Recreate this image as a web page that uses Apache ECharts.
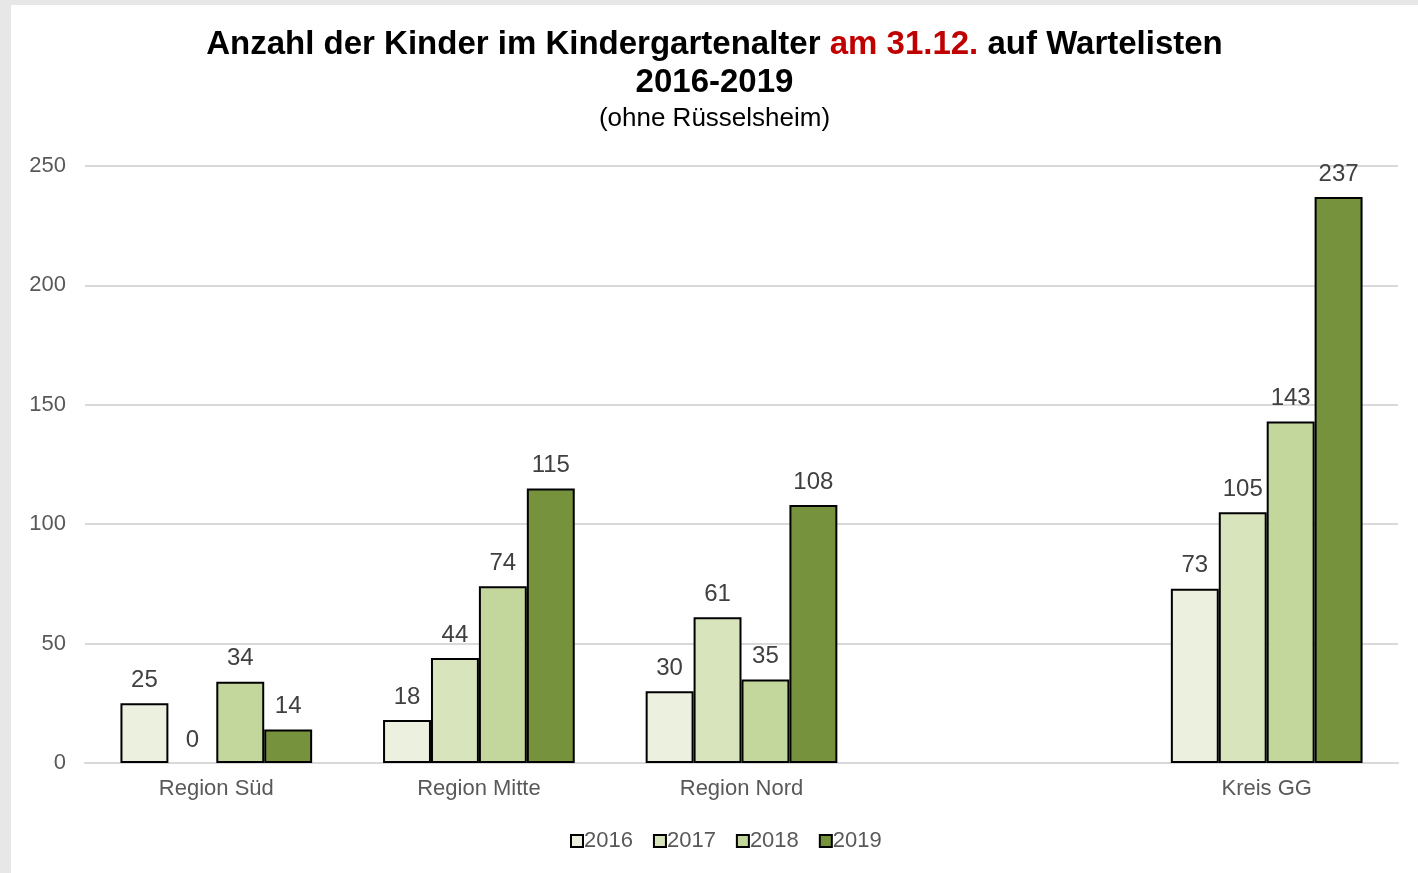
<!DOCTYPE html>
<html>
<head>
<meta charset="utf-8">
<script src="https://cdn.jsdelivr.net/npm/echarts@6/dist/echarts.min.js"></script>
<style>
    html, body { margin: 0; padding: 0; background: #e7e7e7; }
    #chart { position: absolute; left: 11px; top: 5px; width: 1407px; height: 868px; background: #fff; }
</style>
</head>
<body>
<div id="chart"></div>
<script>
    // Kategorien (leere Kategorie = Abstand vor Kreis GG)
    var regions = ['Region Süd', 'Region Mitte', 'Region Nord', '', 'Kreis GG']
    var years = ['2016', '2017', '2018', '2019']
    var v2016 = [25, 18, 30, '-', 73]
    var v2017 = [0, 44, 61, '-', 105]
    var v2018 = [34, 74, 35, '-', 143]
    var v2019 = [14, 115, 108, '-', 237]
    var yTicks = [0, 50, 100, 150, 200, 250]

    var colors = ['#ebf0df', '#d8e4bc', '#c3d69b', '#76923c']
    var values = [v2016, v2017, v2018, v2019]

    var myChart = echarts.init(document.getElementById('chart'))

    var series = years.map(function (y, i) {
        return {
            name: y,
            type: 'bar',
            // zero bars get no outline (Excel draws nothing there)
            data: values[i].map(function (v) {
                return v === 0 ? { value: v, itemStyle: { borderWidth: 0 } } : v
            }),
            barGap: '0%',
            barCategoryGap: '27%',
            itemStyle: {
                color: colors[i],
                borderColor: '#000',
                borderWidth: 2
            },
            label: {
                show: true,
                position: 'top',
                distance: 11,
                color: '#404040',
                fontSize: 24,
                fontFamily: 'Liberation Sans'
            }
        }
    })

    var option = {
        animation: false,
        textStyle: { fontFamily: 'Liberation Sans' },
        title: {
            text: '{a|Anzahl der Kinder im Kindergartenalter }{r|am 31.12.}{a| auf Wartelisten}\n{a|2016-2019}',
            subtext: '(ohne Rüsselsheim)',
            left: 'center',
            top: 16,
            padding: [5, 0, 5, 12],
            itemGap: 9,
            textStyle: {
                rich: {
                    a: { fontSize: 33, fontWeight: 'bold', color: '#000', lineHeight: 38, fontFamily: 'Liberation Sans' },
                    r: { fontSize: 33, fontWeight: 'bold', color: '#c00000', lineHeight: 38, fontFamily: 'Liberation Sans' }
                }
            },
            subtextStyle: { fontSize: 26, color: '#000', fontFamily: 'Liberation Sans' }
        },
        legend: {
            data: years,
            bottom: 16,
            left: 554,
            itemWidth: 12,
            itemHeight: 12,
            itemGap: 20,
            icon: 'rect',
            textStyle: { fontSize: 22, color: '#595959', padding: [0, 0, 0, -4] },
            itemStyle: { borderColor: '#000', borderWidth: 2 }
        },
        grid: {
            left: 74,
            right: 20,
            top: 161,
            bottom: 110
        },
        xAxis: {
            type: 'category',
            data: regions,
            axisTick: { show: false },
            axisLine: { lineStyle: { color: '#d9d9d9', width: 2 } },
            axisLabel: { fontSize: 22, color: '#595959', margin: 15 }
        },
        yAxis: {
            type: 'value',
            min: yTicks[0],
            max: yTicks[yTicks.length - 1],
            interval: 50,
            axisLine: { show: false },
            axisTick: { show: false },
            axisLabel: { fontSize: 22, color: '#595959', margin: 19 },
            splitLine: { lineStyle: { color: '#d9d9d9', width: 2 } }
        },
        series: series
    }
    myChart.setOption(option)
    window.addEventListener('resize', function () {
        myChart.resize()
    })
</script>
</body>
</html>
